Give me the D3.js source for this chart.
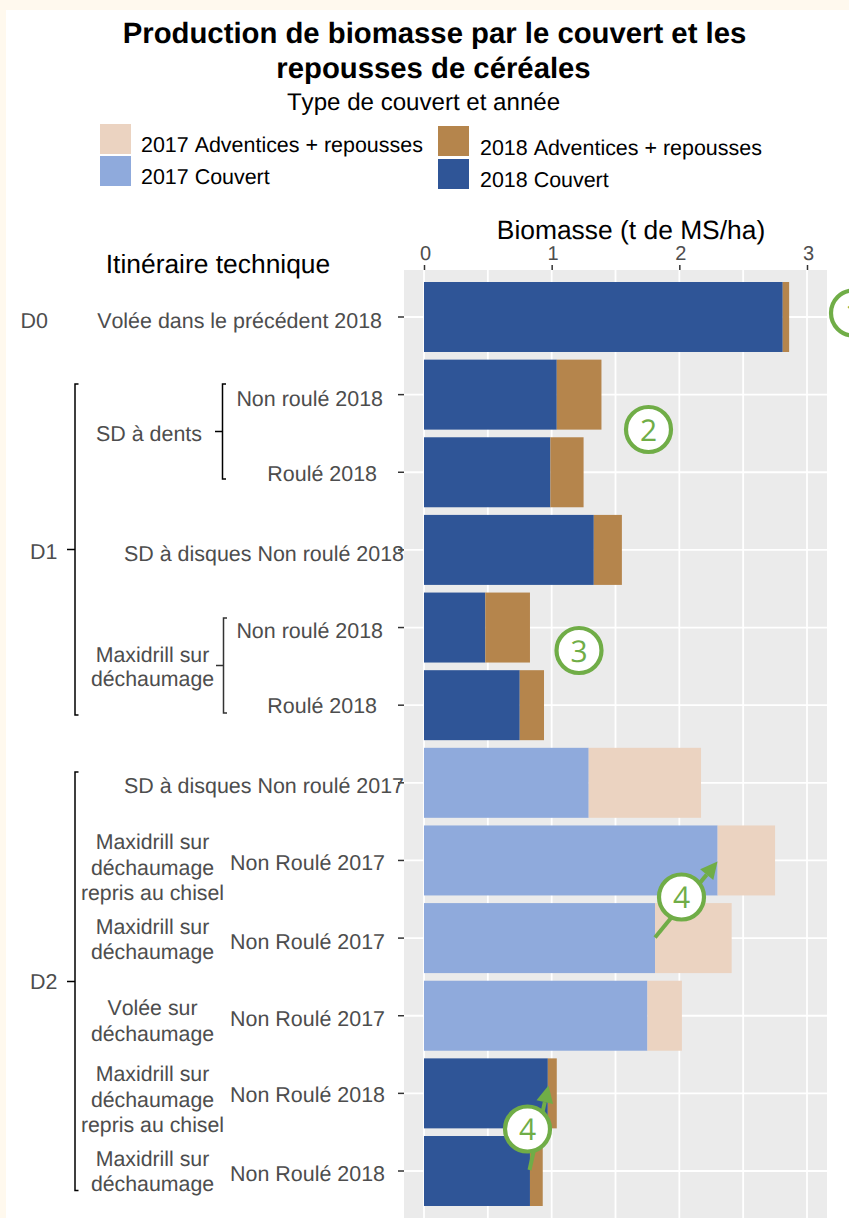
<!DOCTYPE html>
<html>
<head>
<meta charset="utf-8">
<script src="https://cdn.jsdelivr.net/npm/d3@7"></script>
<style>
  html, body { margin: 0; padding: 0; background: #FFF9EE; }
  svg { display: block; }
  text { font-family: "Liberation Sans", Arial, sans-serif; font-kerning: none; text-rendering: geometricPrecision; }
</style>
</head>
<body>
<div id="graph"></div>
<script>
// Données (t de MS/ha)
const rows = ["r1", "r2", "r3", "r4", "r5", "r6", "r7", "r8", "r9", "r10", "r11", "r12"];
const years = [2018, 2018, 2018, 2018, 2018, 2018, 2017, 2017, 2017, 2017, 2018, 2018];
const couvert = [2.81, 1.04, 0.99, 1.33, 0.48, 0.75, 1.29, 2.30, 1.81, 1.75, 0.97, 0.83];
const adventices = [0.05, 0.35, 0.26, 0.22, 0.35, 0.19, 0.88, 0.45, 0.60, 0.27, 0.07, 0.10];
const xTicks = [0, 1, 2, 3];
const xGrid = [0, 0.5, 1, 1.5, 2, 2.5, 3];

const rowLabels = [
    "Volée dans le précédent 2018", "Non roulé 2018", "Roulé 2018",
    "SD à disques Non roulé 2018", "Non roulé 2018", "Roulé 2018",
    "SD à disques Non roulé 2017", "Non Roulé 2017", "Non Roulé 2017",
    "Non Roulé 2017", "Non Roulé 2018", "Non Roulé 2018"
];
const legendLabels = ["2017 Adventices + repousses", "2017 Couvert", "2018 Adventices + repousses", "2018 Couvert"];
const colors = {
    "2017": { couvert: "#8FAADC", adventices: "#EBD3C1" },
    "2018": { couvert: "#2F5597", adventices: "#B5854C" }
};

//---------------------------------------------------------------------------------------

// Création du canevas SVG
const width = 849;
const height = 1218;

const svg = d3.select("#graph")
    .append("svg")
    .attr("width", width)
    .attr("height", height);

// carte blanche sur fond crème
svg.append("rect")
    .attr("x", 6).attr("y", 10)
    .attr("width", width).attr("height", height)
    .attr("fill", "#ffffff");

//---------------------------------------------------------------------------------------

// Échelles
const scaleX = d3.scaleLinear().domain([0, 3]).range([424, 807]);
const scaleY = d3.scaleBand().domain(rows).range([282, 1206]).paddingInner(0.0985).paddingOuter(0);
const panelLeft = 404, panelRight = 827, panelTop = 270;

// Fond et grille
svg.append("rect")
    .attr("x", panelLeft).attr("y", panelTop)
    .attr("width", panelRight - panelLeft).attr("height", height - panelTop)
    .attr("fill", "#EBEBEB");

svg.selectAll(".gridV")
    .data(xGrid)
    .join("line")
    .attr("class", "gridV")
    .attr("x1", d => scaleX(d)).attr("x2", d => scaleX(d))
    .attr("y1", panelTop).attr("y2", height)
    .attr("stroke", "#ffffff").attr("stroke-width", 1.8);

svg.selectAll(".gridH")
    .data(rows)
    .join("line")
    .attr("class", "gridH")
    .attr("x1", panelLeft).attr("x2", panelRight)
    .attr("y1", d => scaleY(d) + scaleY.bandwidth() / 2)
    .attr("y2", d => scaleY(d) + scaleY.bandwidth() / 2)
    .attr("stroke", "#ffffff").attr("stroke-width", 1.8);

// Axes
svg.append("g")
    .attr("transform", `translate(0, ${panelTop})`)
    .call(d3.axisTop(scaleX).tickValues(xTicks).tickSize(5).tickPadding(5).tickFormat(d3.format("d")))
    .call(g => g.select(".domain").remove())
    .call(g => g.selectAll(".tick line").attr("stroke", "#333333").attr("stroke-width", 1.5))
    .call(g => g.selectAll("text").attr("font-size", 20).attr("fill", "#4D4D4D").attr("dx", 1)
        .style("font-family", '"Liberation Sans", Arial, sans-serif'));

svg.append("g")
    .attr("transform", `translate(${panelLeft}, 0)`)
    .call(d3.axisLeft(scaleY).tickSize(6).tickFormat(""))
    .call(g => g.select(".domain").remove())
    .call(g => g.selectAll(".tick line").attr("stroke", "#333333").attr("stroke-width", 1.5));

//---------------------------------------------------------------------------------------

// Barres empilées
const tidyData = rows.map((r, i) => ({ row: r, year: years[i], couvert: couvert[i], adventices: adventices[i] }));
const stacked = d3.stack().keys(["couvert", "adventices"])(tidyData);

svg.selectAll(".serie")
    .data(stacked)
    .join("g")
    .attr("class", "serie")
    .selectAll("rect")
    .data(s => s.map(d => ({ key: s.key, d0: d[0], d1: d[1], row: d.data.row, year: d.data.year })))
    .join("rect")
    .attr("x", d => scaleX(d.d0))
    .attr("y", d => scaleY(d.row))
    .attr("width", d => scaleX(d.d1) - scaleX(d.d0))
    .attr("height", scaleY.bandwidth())
    .attr("fill", d => colors[d.year][d.key]);

//---------------------------------------------------------------------------------------

// Titres
const addText = (txt, x, y, size, opts = {}) => svg.append("text")
    .attr("x", x).attr("y", y)
    .attr("font-size", size)
    .attr("text-anchor", opts.anchor || "start")
    .attr("font-weight", opts.weight || "normal")
    .attr("fill", opts.fill || "#000000")
    .text(txt);

addText("Production de biomasse par le couvert et les", 434.5, 43, 29.3, { anchor: "middle", weight: "bold" });
addText("repousses de céréales", 433.5, 77.5, 29.3, { anchor: "middle", weight: "bold" });
addText("Type de couvert et année", 423.5, 110, 24.1, { anchor: "middle" });
addText("Biomasse (t de MS/ha)", 631, 239, 26.4, { anchor: "middle" });
addText("Itinéraire technique", 218, 273, 26.4, { anchor: "middle" });

// Légende
const legendItems = [
    { x: 100, y: 124, h: 30, fill: colors["2017"].adventices, tx: 141, ty: 152 },
    { x: 100, y: 156, h: 30, fill: colors["2017"].couvert, tx: 141, ty: 184 },
    { x: 438, y: 126, h: 30, fill: colors["2018"].adventices, tx: 480, ty: 155 },
    { x: 438, y: 159, h: 30, fill: colors["2018"].couvert, tx: 480, ty: 187 }
];
legendItems.forEach((d, i) => {
    svg.append("rect").attr("x", d.x).attr("y", d.y).attr("width", 31).attr("height", d.h).attr("fill", d.fill);
    addText(legendLabels[i], d.tx, d.ty, 21.45);
});

//---------------------------------------------------------------------------------------

// Étiquettes de l'axe des Y (bord droit et décalage de la ligne de base)
const grey = "#4D4D4D";
const labelEnd = [382, 383, 377, 404, 383, 377, 404, 385, 385, 385, 385, 385];
const labelDy = [11, 11, 9, 11, 10, 8, 10, 10, 11, 10, 9, 10];
rowLabels.forEach((lab, i) => {
    const yC = scaleY(rows[i]) + scaleY.bandwidth() / 2;
    addText(lab, labelEnd[i], yC + labelDy[i], 21.45, { anchor: "end", fill: grey });
});

// Étiquettes de groupe
addText("D0", 48, 328, 21.45, { anchor: "end", fill: grey });
addText("D1", 57.5, 559, 21.45, { anchor: "end", fill: grey });
addText("D2", 57.5, 989, 21.45, { anchor: "end", fill: grey });
addText("SD à dents", 202, 441, 21.45, { anchor: "end", fill: grey });

const midGroups = [
    { lines: ["Maxidrill sur", "déchaumage"], ys: [661.5, 686] },
    { lines: ["Maxidrill sur", "déchaumage", "repris au chisel"], ys: [849, 875, 900] },
    { lines: ["Maxidrill sur", "déchaumage"], ys: [934, 959] },
    { lines: ["Volée sur", "déchaumage"], ys: [1015, 1041] },
    { lines: ["Maxidrill sur", "déchaumage", "repris au chisel"], ys: [1080.5, 1107, 1131.5] },
    { lines: ["Maxidrill sur", "déchaumage"], ys: [1165.5, 1190.5] }
];
midGroups.forEach(g => g.lines.forEach((l, i) => addText(l, 152.5, g.ys[i], 21.3, { anchor: "middle", fill: grey })));

// Accolades
const bracket = (x, y0, y1, yMid, xTick, stroke) => {
    const p = d3.path();
    p.moveTo(x + 3.5, y0); p.lineTo(x, y0); p.lineTo(x, y1); p.lineTo(x + 3.5, y1);
    p.moveTo(xTick, yMid); p.lineTo(x, yMid);
    svg.append("path").attr("d", p.toString()).attr("fill", "none")
        .attr("stroke", stroke).attr("stroke-width", 1.5);
};
bracket(75, 384, 715, 549.5, 67, "#000000");
bracket(75, 772, 1190.5, 981.5, 67, "#000000");
bracket(222.5, 384, 479, 431.5, 215, "#000000");
bracket(223.5, 618, 713, 665.5, 216, "#333333");

//---------------------------------------------------------------------------------------

// Annotations vertes
const green = "#70AD47";
const arrow = (x1, y1, x2, y2) => {
    const a = Math.atan2(y2 - y1, x2 - x1);
    const len = 17, half = 8.5;
    const bx = x2 - len * Math.cos(a), by = y2 - len * Math.sin(a);
    svg.append("line").attr("x1", x1).attr("y1", y1).attr("x2", bx).attr("y2", by)
        .attr("stroke", green).attr("stroke-width", 4);
    svg.append("polygon")
        .attr("points", [[x2, y2],
            [bx - half * Math.sin(a), by + half * Math.cos(a)],
            [bx + half * Math.sin(a), by - half * Math.cos(a)]].join(" "))
        .attr("fill", green);
};
arrow(655, 937.5, 717.5, 861.5);
arrow(529.5, 1170, 548.5, 1085.5);

const bubbles = [
    { x: 853.5, y: 313, t: "1" }, { x: 648.5, y: 429.5, t: "2" }, { x: 579, y: 650.5, t: "3" },
    { x: 681.5, y: 897, t: "4" }, { x: 527.5, y: 1129, t: "4" }
];
bubbles.forEach(b => {
    svg.append("circle").attr("cx", b.x).attr("cy", b.y).attr("r", 22.5)
        .attr("fill", "#ffffff").attr("stroke", green).attr("stroke-width", 4.2);
    svg.append("text").attr("x", b.x).attr("y", b.y + 11)
        .attr("text-anchor", "middle").attr("font-size", 30).attr("fill", green)
        .style("font-family", '"Open Sans", sans-serif')
        .text(b.t);
});
</script>
</body>
</html>
